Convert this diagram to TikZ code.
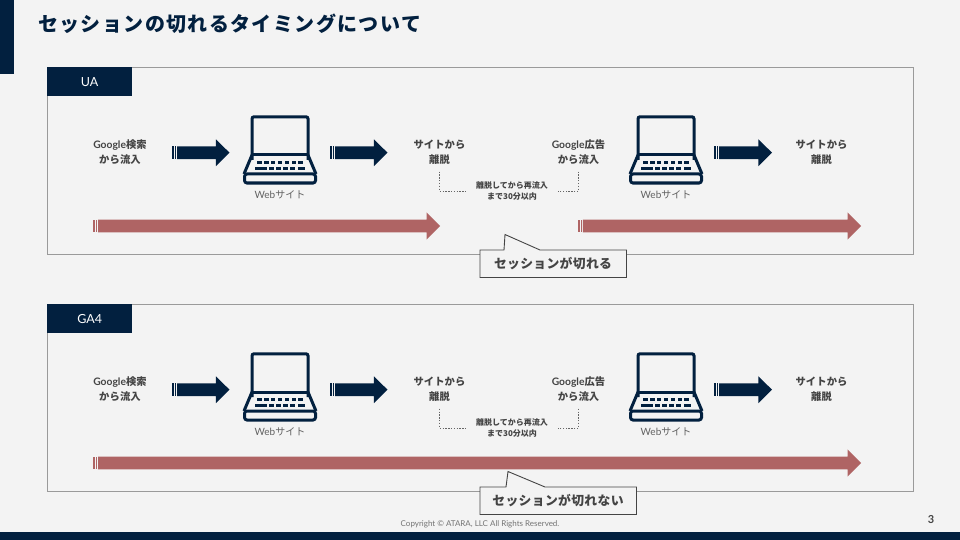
\documentclass[tikz,border=0pt]{standalone}
\usepackage{fontspec}
\setmainfont{Noto Sans CJK JP}
\newfontfamily\lat{Lato}
\usetikzlibrary{calc}
\definecolor{navy}{HTML}{02203F}
\definecolor{rose}{HTML}{AF6464}
\definecolor{pagebg}{HTML}{F3F3F3}
\definecolor{framegray}{HTML}{9A9A9A}
\definecolor{ink}{HTML}{444444}
\newcommand{\sz}[2]{\fontsize{#1}{#2}\selectfont}
\newcommand{\spc}[1]{\addfontfeatures{LetterSpace=#1}}
% block arrow between two named coordinates: colour, half shaft, head half, head length
\newcommand{\barrow}[6]{%
  \fill[#3] ($(#1)+(0,-#4)$) rectangle ($(#1)+(1.8,#4)$);
  \fill[#3] ($(#1)+(2.6,-#4)$) rectangle ($(#1)+(4.0,#4)$);
  \fill[#3] ($(#1)+(4.8,-#4)$) -- ($(#2)+(-#6,-#4)$) -- ($(#2)+(-#6,-#5)$) -- (#2)
     -- ($(#2)+(-#6,#5)$) -- ($(#2)+(-#6,#4)$) -- ($(#1)+(4.8,#4)$) -- cycle;
}
\tikzset{
  framebox/.style={draw=framegray,line width=0.9pt,fill=none},
  tabbox/.style={fill=navy,text=white,minimum width=85pt,minimum height=29pt,inner sep=0pt,anchor=north west,font=\lat\sz{12.5}{14}},
  lbl/.style={text=ink,font=\bfseries\sz{10.3}{15}\spc{1},align=center,minimum height=39pt,inner sep=0pt},
  captext/.style={text=black!62,font=\sz{10}{12},inner sep=0pt},
  notelbl/.style={text=ink,font=\bfseries\sz{8}{11},align=center,inner xsep=10pt,inner ysep=0pt},
  dashline/.style={draw=black!60,line width=0.6pt,dash pattern=on 1.4pt off 1.4pt},
  callout/.style={draw=ink,line width=0.9pt,fill=pagebg,line join=miter},
  calltext/.style={text=ink,font=\bfseries\sz{12.8}{15}\spc{2.7},inner sep=0pt},
  pics/laptop/.style={code={
    \draw[navy,line width=3pt,rounded corners=2pt] (-28,10) -- (-28,-33.2) -- (28,-33.2) -- (28,10);
    \draw[navy,line width=3pt,line join=round] (-28,5) -- (28,5);
    \draw[navy,line width=3pt,line join=round] (-28,5) -- (-36,24) (28,5) -- (36,24);
    \draw[navy,line width=3pt,rounded corners=2.5pt] (-35.5,24) rectangle (35.5,33);
    \foreach \k in {0,...,6}{
      \fill[navy] ({-23+\k*6.9},11) rectangle ++(4.6,2.8);
    }
    \fill[navy] (-25,17) rectangle ++(6.6,2.8);
    \foreach \k in {1,...,5}{
      \fill[navy] ({-24.5+\k*6.9},17) rectangle ++(4.6,2.8);
    }
    \fill[navy] (18.4,17) rectangle ++(6.6,2.8);
  }}
}
\begin{document}
\begin{tikzpicture}[x=1pt,y=-1pt]
\useasboundingbox (0,0) rectangle (960,540);
\fill[pagebg] (0,0) rectangle (960,540);
\fill[navy] (0,0) rectangle (14,74);
\fill[navy] (0,532) rectangle (960,540);
\node[anchor=west,inner sep=0pt,text=navy,font=\bfseries\sz{20}{24}\spc{6.9}] (title) at (38,24) {セッションの切れるタイミングについて};

\foreach \s/\dy/\lab in {a/0/UA,b/237/GA4}{
  \begin{scope}[shift={(0,\dy)}]
    \draw[framebox] (47,67) rectangle (913,254);
    \node[tabbox] (tab\s) at (47,67) {\lab};
    \node[lbl] (src\s) at (120,152) {{\lat\bfseries Google}検索\\から流入};
    \pic at (280,150) {laptop};
    \node[captext] (web\s) at (280,195) {{\lat Web}サイト};
    \node[lbl] (leave\s) at (439.5,152) {サイトから\\離脱};
    \node[lbl] (ad\s) at (578.5,152) {{\lat\bfseries Google}広告\\から流入};
    \pic at (666,150) {laptop};
    \node[captext] (webb\s) at (666,195) {{\lat Web}サイト};
    \node[lbl] (out\s) at (821.5,152) {サイトから\\離脱};
    \node[notelbl] (note\s) at (512,191) {離脱してから再流入\\まで30分以内};
    \draw[dashline] (leave\s.south) |- (note\s.west);
    \draw[dashline] (ad\s.south) |- (note\s.east);
    \coordinate (p1\s) at (172.3,152.7); \coordinate (q1\s) at (229.5,152.7);
    \coordinate (p2\s) at (330.3,152.7); \coordinate (q2\s) at (387.5,152.7);
    \coordinate (p3\s) at (714.3,152.7); \coordinate (q3\s) at (772,152.7);
    \barrow{p1\s}{q1\s}{navy}{6.4}{13.4}{13.6}
    \barrow{p2\s}{q2\s}{navy}{6.4}{13.4}{13.6}
    \barrow{p3\s}{q3\s}{navy}{6.4}{13.4}{13.6}
  \end{scope}
}

% session bars
\coordinate (r1s) at (93.3,226); \coordinate (r1e) at (440,226);
\coordinate (r2s) at (578,226);  \coordinate (r2e) at (861,226);
\coordinate (r3s) at (93.3,463); \coordinate (r3e) at (861,463);
\barrow{r1s}{r1e}{rose}{6.4}{13.6}{13.4}
\barrow{r2s}{r2e}{rose}{6.4}{13.6}{13.4}
\barrow{r3s}{r3e}{rose}{6.4}{13.6}{13.4}

% callouts
\draw[callout] (480,250) -- (504,250) -- (505,234.5) -- (540,250) -- (626.5,250) -- (626.5,277.5) -- (480,277.5) -- cycle;
\node[calltext] (ca) at (553,264) {セッションが切れる};
\draw[callout] (480,487) -- (506,487) -- (508,471.5) -- (545,487) -- (636.5,487) -- (636.5,514.5) -- (480,514.5) -- cycle;
\node[calltext] (cb) at (558,501) {セッションが切れない};

\node[text=black!55,font=\lat\sz{8}{9},inner sep=0pt] (copy) at (480,524) {Copyright © ATARA, LLC All Rights Reserved.};
\node[text=ink,font=\lat\bfseries\sz{11}{12},inner sep=0pt] (pg) at (931,520) {3};
\end{tikzpicture}
\end{document}
